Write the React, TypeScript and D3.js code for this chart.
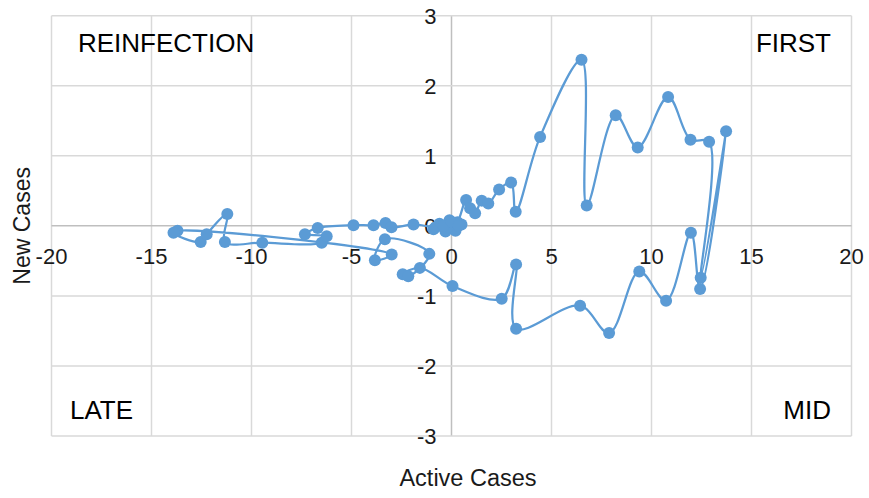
import React from "react";
import * as d3 from "d3";

// Time-ordered trajectory (Active Cases change, New Cases change)
const activeCases: number[] = [
  -0.9, -0.6, -0.3, -0.1, 0.1, 0.3, 0.5, 0.2, -0.2, 0.26,
  0.73, 0.93, 1.18, 1.51, 1.84, 2.38, 2.98, 3.21, 4.43, 6.5,
  6.76, 8.21, 9.31, 10.83, 11.95, 12.88, 12.46, 13.73, 12.43, 11.97,
  10.73, 9.39, 7.88, 6.43, 3.23, 3.23, 2.51, 0.05, -1.58, -2.44,
  -2.16, -1.11, -3.33, -3.83, -2.99, -13.7, -13.9, -12.54, -12.24, -11.21,
  -11.33, -9.46, -6.49, -6.24, -7.33, -6.69, -4.9, -3.9, -3.3, -3.0,
  -1.9, -0.8, -0.4, 0.0, 0.35,
];
const newCases: number[] = [
  -0.05, 0.03, -0.08, 0.08, -0.03, 0.05, 0.02, -0.07, -0.02, 0.04,
  0.37, 0.25, 0.18, 0.36, 0.32, 0.52, 0.62, 0.2, 1.27, 2.37,
  0.29, 1.58, 1.12, 1.84, 1.23, 1.2, -0.74, 1.35, -0.9, -0.1,
  -1.07, -0.65, -1.53, -1.14, -1.47, -0.55, -1.04, -0.86, -0.6, -0.69,
  -0.72, -0.4, -0.19, -0.49, -0.41, -0.07, -0.1, -0.23, -0.12, 0.17,
  -0.23, -0.24, -0.24, -0.15, -0.12, -0.03, 0.01, 0.01, 0.04, -0.02,
  0.02, -0.02, 0.0, 0.06, 0.0,
];

const xTicks: number[] = [-20, -15, -10, -5, 0, 5, 10, 15, 20];
const yTicks: number[] = [-3, -2, -1, 0, 1, 2, 3];
const quadrantLabels: string[] = ["REINFECTION", "FIRST", "LATE", "MID"];
const xTitle = "Active Cases";
const yTitle = "New Cases";

const W = 869;
const H = 498;
const left = 51.5;
const right = 851.5;
const top = 15.7;
const bottom = 436;
const BLUE = "#5B9BD5";
const FONT = "'Liberation Sans', Arial, sans-serif";

export default function App() {
  const x = d3.scaleLinear().domain([-20, 20]).range([left, right]);
  const y = d3.scaleLinear().domain([-3, 3]).range([bottom, top]);
  const pts: [number, number][] = activeCases.map((a, i) => [a, newCases[i]]);
  const line = d3
    .line<[number, number]>()
    .x((d) => x(d[0]))
    .y((d) => y(d[1]))
    .curve(d3.curveCatmullRom.alpha(0.5));

  return (
    <svg
      width={W}
      height={H}
      style={{ position: "absolute", left: 0, top: 0, background: "#fff" }}
      fontFamily={FONT}
    >
      {xTicks.map((t) => (
        <line
          key={"gx" + t}
          x1={x(t)}
          x2={x(t)}
          y1={top}
          y2={bottom}
          stroke={t === 0 ? "#bfbfbf" : "#d9d9d9"}
          strokeWidth={1.5}
        />
      ))}
      {yTicks.map((t) => (
        <line
          key={"gy" + t}
          x1={left}
          x2={right}
          y1={y(t)}
          y2={y(t)}
          stroke={t === 0 ? "#bfbfbf" : "#d9d9d9"}
          strokeWidth={1.5}
        />
      ))}
      {xTicks.map((t) => (
        <text
          key={"tx" + t}
          x={x(t)}
          y={y(0) + 38}
          textAnchor="middle"
          fontSize={22}
          fill="#1a1a1a"
        >
          {t}
        </text>
      ))}
      {yTicks.map((t) => (
        <text
          key={"ty" + t}
          x={x(0) - 15}
          y={y(t)}
          dy="0.36em"
          textAnchor="end"
          fontSize={22}
          fill="#1a1a1a"
        >
          {t}
        </text>
      ))}
      <text x={78} y={52} fontSize={26} fill="#000">
        {quadrantLabels[0]}
      </text>
      <text x={831} y={52} fontSize={26} fill="#000" textAnchor="end">
        {quadrantLabels[1]}
      </text>
      <text x={70} y={419} fontSize={26} fill="#000">
        {quadrantLabels[2]}
      </text>
      <text x={831} y={419} fontSize={26} fill="#000" textAnchor="end">
        {quadrantLabels[3]}
      </text>
      <text x={468} y={486} fontSize={23.5} textAnchor="middle" fill="#1a1a1a">
        {xTitle}
      </text>
      <text
        transform={`translate(30,${(top + bottom) / 2}) rotate(-90)`}
        fontSize={23}
        textAnchor="middle"
        fill="#1a1a1a"
      >
        {yTitle}
      </text>
      <path d={line(pts) || ""} fill="none" stroke={BLUE} strokeWidth={2.25} />
      {pts.map((d, i) => (
        <circle key={i} cx={x(d[0])} cy={y(d[1])} r={6} fill={BLUE} />
      ))}
    </svg>
  );
}
